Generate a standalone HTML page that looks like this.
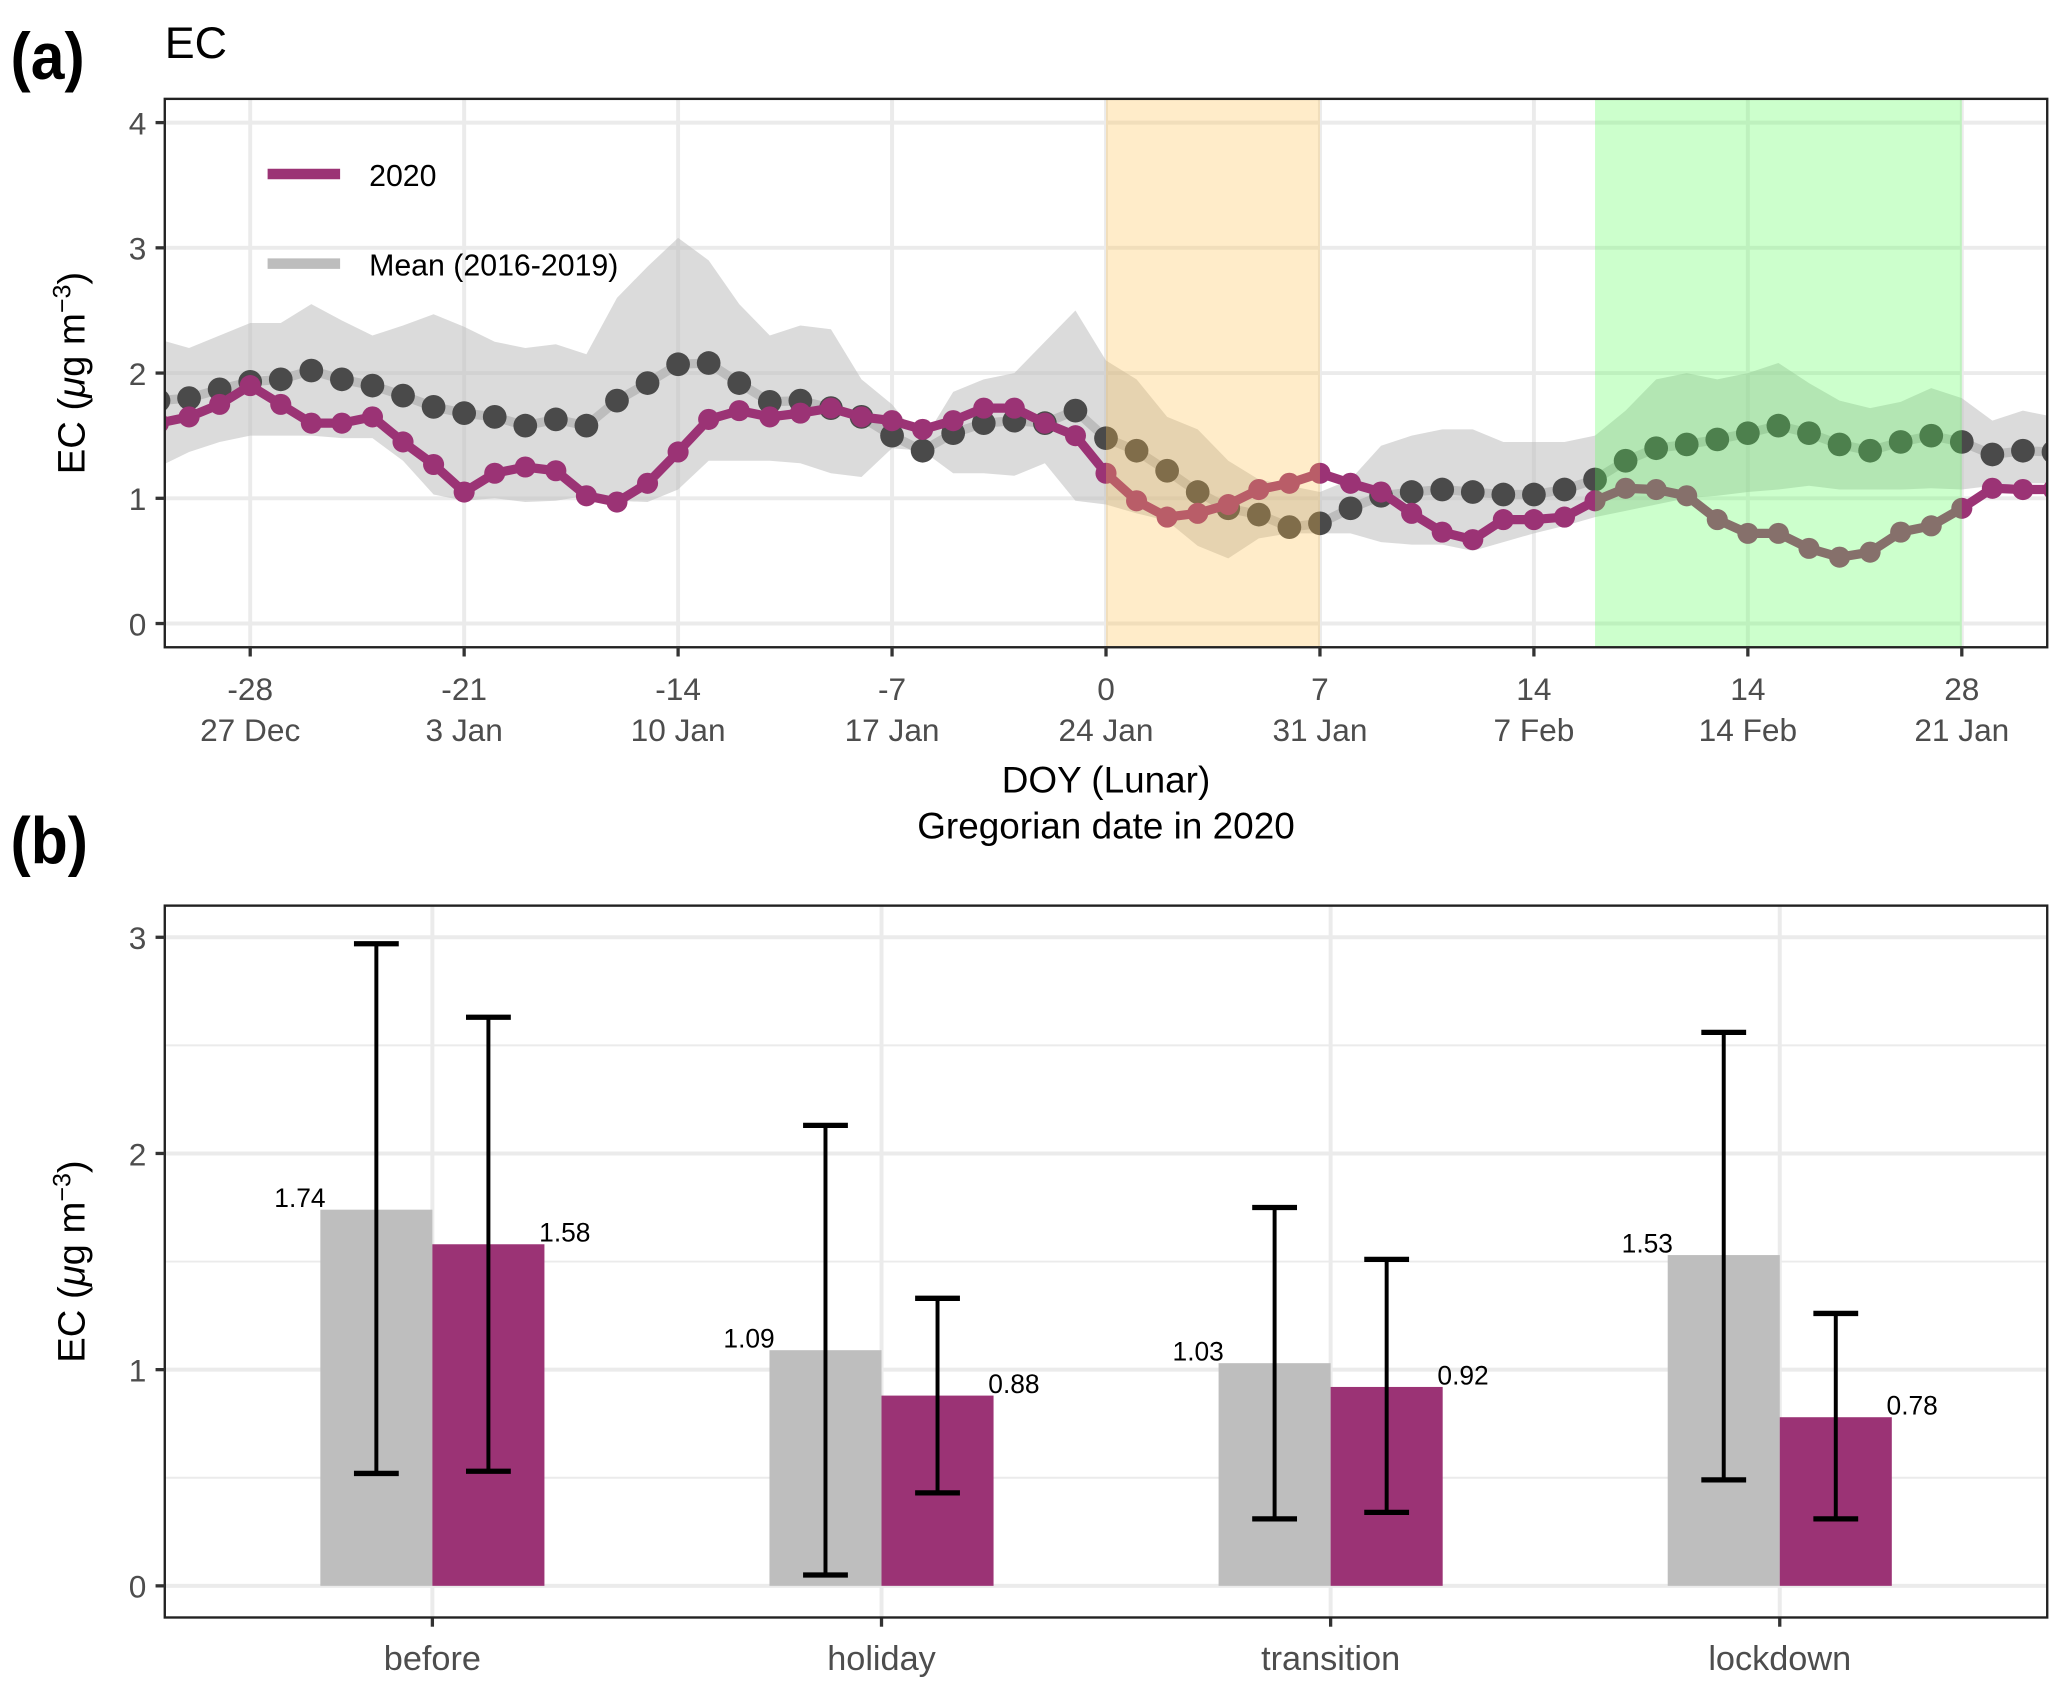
<!DOCTYPE html>
<html><head><meta charset="utf-8"><style>
html,body{margin:0;padding:0;background:#fff;}
svg{display:block;}
text{font-family:"Liberation Sans",sans-serif;}
</style></head><body>
<svg id="fig" width="2067" height="1695" viewBox="0 0 1568 1285.8" xmlns="http://www.w3.org/2000/svg">
<defs>
<clipPath id="clipA"><rect x="125" y="75" width="1428" height="416"/></clipPath>
</defs>
<g id="panelA"></g>
<g id="panelB"></g>
</svg>
<script>
// ---- Panel (a) data ----
const days = [];
for (let d = -31; d <= 31; d++) days.push(d);
const ec2020 = [1.6,1.65,1.75,1.9,1.75,1.6,1.6,1.65,1.45,1.27,1.05,1.2,1.25,1.22,1.02,0.97,1.12,1.37,1.63,1.7,1.65,1.68,1.72,1.65,1.62,1.55,1.62,1.72,1.72,1.6,1.5,1.2,0.98,0.85,0.88,0.95,1.07,1.12,1.2,1.12,1.05,0.88,0.73,0.67,0.83,0.83,0.85,0.98,1.08,1.07,1.02,0.83,0.72,0.72,0.6,0.53,0.57,0.73,0.78,0.92,1.08,1.07,1.07];
const ecMean = [1.78,1.8,1.87,1.93,1.95,2.02,1.95,1.9,1.82,1.73,1.68,1.65,1.58,1.63,1.58,1.78,1.92,2.07,2.08,1.92,1.77,1.78,1.72,1.65,1.5,1.38,1.52,1.6,1.62,1.6,1.7,1.48,1.38,1.22,1.05,0.92,0.87,0.77,0.8,0.92,1.02,1.05,1.07,1.05,1.03,1.03,1.07,1.15,1.3,1.4,1.43,1.47,1.52,1.58,1.52,1.43,1.38,1.45,1.5,1.45,1.35,1.38,1.37];
const ecUpper = [2.27,2.2,2.3,2.4,2.4,2.55,2.42,2.3,2.38,2.47,2.37,2.25,2.2,2.23,2.15,2.6,2.85,3.08,2.9,2.55,2.3,2.38,2.35,1.95,1.75,1.45,1.85,1.95,2.0,2.25,2.5,2.1,1.95,1.65,1.55,1.3,1.15,1.1,1.05,1.15,1.42,1.5,1.55,1.55,1.45,1.45,1.45,1.5,1.7,1.95,2.0,1.95,2.0,2.08,1.92,1.78,1.72,1.77,1.88,1.8,1.62,1.7,1.65];
const ecLower = [1.25,1.37,1.45,1.5,1.5,1.5,1.48,1.48,1.3,1.03,0.98,1.0,0.97,0.98,1.02,0.98,0.97,1.07,1.3,1.3,1.3,1.28,1.2,1.17,1.4,1.38,1.2,1.2,1.18,1.28,0.98,0.95,0.88,0.82,0.62,0.52,0.68,0.72,0.72,0.72,0.65,0.63,0.63,0.58,0.65,0.72,0.78,0.85,0.9,0.95,1.0,1.02,1.05,1.07,1.1,1.07,1.07,1.07,1.08,1.07,1.1,1.12,1.12];
const xTickDays = [-28,-21,-14,-7,0,7,14,21,28];
const xTickLunar = ["-28","-21","-14","-7","0","7","14","14","28"];
const xTickDates = ["27 Dec","3 Jan","10 Jan","17 Jan","24 Jan","31 Jan","7 Feb","14 Feb","21 Jan"];
const yTicksA = [0,1,2,3,4];
const holidayRange = [0,7];
const lockdownRange = [16,28];

// ---- Panel (b) data ----
const periods = ["before","holiday","transition","lockdown"];
const meanVals = [1.74,1.09,1.03,1.53];
const vals2020 = [1.58,0.88,0.92,0.78];
const meanLo = [0.52,0.05,0.31,0.49];
const meanHi = [2.97,2.13,1.75,2.56];
const lo2020 = [0.53,0.43,0.34,0.31];
const hi2020 = [2.63,1.33,1.51,1.26];
const yTicksB = [0,1,2,3];

const NS = "http://www.w3.org/2000/svg";
function mk(parent, tag, attrs, text) {
  const e = document.createElementNS(NS, tag);
  for (const k in attrs) e.setAttribute(k, attrs[k]);
  if (text !== undefined) e.textContent = text;
  parent.appendChild(e);
  return e;
}
const PURPLE = "#9b3375";

// ===== Panel A =====
(function(){
  const g = document.getElementById("panelA");
  const L = 125, R = 1553, T = 75, B = 491;
  const xA = d => 839 + d * (162.3 / 7);
  const yA = v => 473 - v * 95;

  const lab = mk(g, "text", {x: 8, y: 60, "font-size": 50, "font-weight": "bold", fill: "#000", transform: "translate(8,60) scale(0.92,1) translate(-8,-60)"}, "(a)");
  
  
  const ttl = mk(g, "text", {x: 125, y: 44, "font-size": 34, fill: "#000"}, "EC");
  
  

  const grid = mk(g, "g", {});
  
  
  yTicksA.forEach(v => mk(grid, "line", {x1: L, x2: R, y1: yA(v), y2: yA(v), stroke: "#ebebeb", "stroke-width": 3}));
  xTickDays.forEach(d => mk(grid, "line", {x1: xA(d), x2: xA(d), y1: T, y2: B, stroke: "#ebebeb", "stroke-width": 3}));

  const data = mk(g, "g", {"clip-path": "url(#clipA)"});
  let pts = days.map((d, i) => xA(d) + "," + yA(ecUpper[i]));
  for (let i = days.length - 1; i >= 0; i--) pts.push(xA(days[i]) + "," + yA(ecLower[i]));
  const rib = mk(data, "polygon", {points: pts.join(" "), fill: "#bdbdbd", "fill-opacity": 0.55});
  
  
  const ml = mk(data, "polyline", {points: days.map((d, i) => xA(d) + "," + yA(ecMean[i])).join(" "), fill: "none", stroke: "#bdbdbd", "stroke-width": 7});
  
  
  days.forEach((d, i) => {
    const c = mk(data, "circle", {cx: xA(d), cy: yA(ecMean[i]), r: 9, fill: "#4a4a4a"});
    
    
  });
  const pl = mk(data, "polyline", {points: days.map((d, i) => xA(d) + "," + yA(ec2020[i])).join(" "), fill: "none", stroke: PURPLE, "stroke-width": 7, "stroke-linejoin": "round"});
  
  
  days.forEach((d, i) => {
    const c = mk(data, "circle", {cx: xA(d), cy: yA(ec2020[i]), r: 8, fill: PURPLE});
    
    
  });
  const hol = mk(data, "rect", {x: xA(holidayRange[0]), y: T, width: xA(holidayRange[1]) - xA(holidayRange[0]), height: B - T, fill: "#ffc04d", "fill-opacity": 0.3});
  
  
  const lock = mk(data, "rect", {x: xA(lockdownRange[0]), y: T, width: xA(lockdownRange[1]) - xA(lockdownRange[0]), height: B - T, fill: "#55ff55", "fill-opacity": 0.3});
  
  

  const lg = mk(g, "g", {});
  
  
  mk(lg, "line", {x1: 203, x2: 258, y1: 132, y2: 132, stroke: PURPLE, "stroke-width": 8});
  mk(lg, "text", {x: 280, y: 141, "font-size": 23, fill: "#000"}, "2020");
  mk(lg, "line", {x1: 203, x2: 258, y1: 200, y2: 200, stroke: "#bdbdbd", "stroke-width": 8});
  mk(lg, "text", {x: 280, y: 209, "font-size": 23, fill: "#000"}, "Mean (2016-2019)");

  mk(g, "rect", {x: L, y: T, width: R - L, height: B - T, fill: "none", stroke: "#222", "stroke-width": 1.8});

  yTicksA.forEach(v => {
    mk(g, "line", {x1: L - 7, x2: L, y1: yA(v), y2: yA(v), stroke: "#333", "stroke-width": 2.5});
    const t = mk(g, "text", {x: L - 14, y: yA(v) + 9, "font-size": 24, fill: "#4d4d4d", "text-anchor": "end"}, String(v));
    
    
  });
  xTickDays.forEach((d, i) => {
    mk(g, "line", {x1: xA(d), x2: xA(d), y1: B, y2: B + 7, stroke: "#333", "stroke-width": 2.5});
    const t1 = mk(g, "text", {x: xA(d), y: 531, "font-size": 24, fill: "#4d4d4d", "text-anchor": "middle"}, xTickLunar[i]);
    
    
    const t2 = mk(g, "text", {x: xA(d), y: 562, "font-size": 24, fill: "#4d4d4d", "text-anchor": "middle"}, xTickDates[i]);
    
    
  });
  const xt1 = mk(g, "text", {x: 839, y: 601, "font-size": 28, fill: "#000", "text-anchor": "middle"}, "DOY (Lunar)");
  
  
  const xt2 = mk(g, "text", {x: 839, y: 636, "font-size": 28, fill: "#000", "text-anchor": "middle"}, "Gregorian date in 2020");
  
  
  const yt = mk(g, "text", {transform: "translate(64,283) rotate(-90)", "font-size": 29, fill: "#000", "text-anchor": "middle"});
  
  
  yt.innerHTML = 'EC (<tspan font-style="italic">μ</tspan>g m<tspan baseline-shift="super" font-size="19">−3</tspan>)';
})();

// ===== Panel B =====
(function(){
  const g = document.getElementById("panelB");
  const L = 125, R = 1553, T = 687, B = 1227;
  const yB = v => 1203 - v * 164;
  const xC = i => 328 + i * 340.7;
  const bw = 85;

  const lab = mk(g, "text", {x: 8, y: 655, "font-size": 50, "font-weight": "bold", fill: "#000", transform: "translate(8,655) scale(0.92,1) translate(-8,-655)"}, "(b)");
  
  

  const grid = mk(g, "g", {});
  
  
  [0.5, 1.5, 2.5].forEach(v => mk(grid, "line", {x1: L, x2: R, y1: yB(v), y2: yB(v), stroke: "#ebebeb", "stroke-width": 1.5}));
  yTicksB.forEach(v => mk(grid, "line", {x1: L, x2: R, y1: yB(v), y2: yB(v), stroke: "#ebebeb", "stroke-width": 3}));
  periods.forEach((p, i) => mk(grid, "line", {x1: xC(i), x2: xC(i), y1: T, y2: B, stroke: "#ebebeb", "stroke-width": 3}));

  periods.forEach((p, i) => {
    const c = xC(i);
    const b1 = mk(g, "rect", {x: c - bw, y: yB(meanVals[i]), width: bw, height: yB(0) - yB(meanVals[i]), fill: "#bebebe"});
    
    
    const b2 = mk(g, "rect", {x: c, y: yB(vals2020[i]), width: bw, height: yB(0) - yB(vals2020[i]), fill: PURPLE});
    
    
    const l1 = mk(g, "text", {x: c - bw + 4, y: yB(meanVals[i]) - 2, "font-size": 20, fill: "#000", "text-anchor": "end"}, meanVals[i].toFixed(2));
    
    
    const l2 = mk(g, "text", {x: c + bw - 4, y: yB(vals2020[i]) - 2, "font-size": 20, fill: "#000"}, vals2020[i].toFixed(2));
    
    
    [[c - bw / 2, meanLo[i], meanHi[i]], [c + bw / 2, lo2020[i], hi2020[i]]].forEach(([x, lo, hi]) => {
      const eg = mk(g, "g", {stroke: "#000", "stroke-width": 3});
      
      
      mk(eg, "line", {x1: x, x2: x, y1: yB(lo), y2: yB(hi)});
      mk(eg, "line", {x1: x - 17, x2: x + 17, y1: yB(lo), y2: yB(lo), "stroke-width": 4});
      mk(eg, "line", {x1: x - 17, x2: x + 17, y1: yB(hi), y2: yB(hi), "stroke-width": 4});
    });
    mk(g, "line", {x1: c, x2: c, y1: B, y2: B + 7, stroke: "#333", "stroke-width": 2.5});
    const t = mk(g, "text", {x: c, y: 1267, "font-size": 26, fill: "#4d4d4d", "text-anchor": "middle"}, p);
    
    
  });

  mk(g, "rect", {x: L, y: T, width: R - L, height: B - T, fill: "none", stroke: "#222", "stroke-width": 1.8});
  yTicksB.forEach(v => {
    mk(g, "line", {x1: L - 7, x2: L, y1: yB(v), y2: yB(v), stroke: "#333", "stroke-width": 2.5});
    const t = mk(g, "text", {x: L - 14, y: yB(v) + 9, "font-size": 24, fill: "#4d4d4d", "text-anchor": "end"}, String(v));
    
    
  });
  const yt = mk(g, "text", {transform: "translate(64,957) rotate(-90)", "font-size": 29, fill: "#000", "text-anchor": "middle"});
  
  
  yt.innerHTML = 'EC (<tspan font-style="italic">μ</tspan>g m<tspan baseline-shift="super" font-size="19">−3</tspan>)';
})();
</script>
</body></html>
